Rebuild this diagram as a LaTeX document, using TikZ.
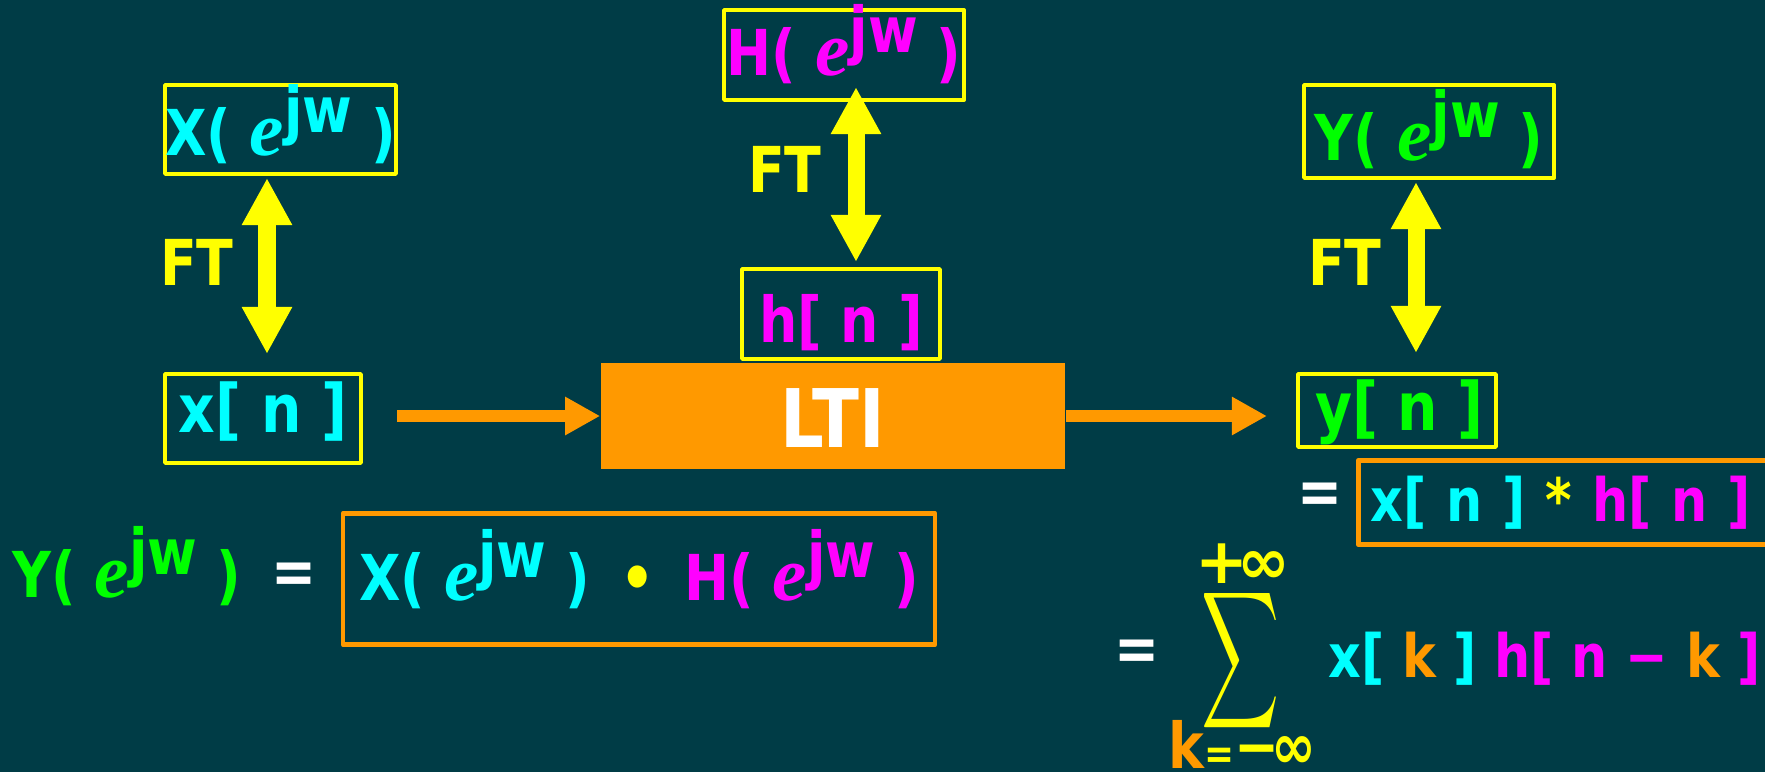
\documentclass[tikz,border=0pt]{standalone}
\usepackage{fontspec}
\setmainfont[FakeStretch=0.85]{DejaVu Sans}
\newfontfamily\efont{Liberation Serif}
\newfontfamily\symfont{DejaVu Sans}
\usetikzlibrary{arrows.meta}

\definecolor{bgteal}{RGB}{0,60,70}
\definecolor{ftyellow}{RGB}{255,255,0}
\definecolor{sigcyan}{RGB}{0,255,255}
\definecolor{sigmagenta}{RGB}{255,0,255}
\definecolor{siggreen}{RGB}{0,255,0}
\definecolor{ltiorange}{RGB}{255,153,0}

\newcommand{\ejw}{{\efont\itshape\fontsize{22pt}{22pt}\selectfont e}\raisebox{6.5pt}{jw}}
\newcommand{\cy}[1]{\textcolor{sigcyan}{#1}}
\newcommand{\mg}[1]{\textcolor{sigmagenta}{#1}}
\newcommand{\og}[1]{\textcolor{ltiorange}{#1}}
\newcommand{\yl}[1]{\textcolor{ftyellow}{#1}}

\begin{document}
\begin{tikzpicture}[x=0.01cm,y=-0.01cm,
    every node/.style={font=\bfseries\fontsize{18pt}{20pt}\selectfont, inner sep=0pt},
    bigtxt/.style={font=\bfseries\fontsize{19pt}{21pt}\selectfont},
    smalltxt/.style={font=\bfseries\fontsize{17pt}{19pt}\selectfont},
    sigbox/.style={draw=ftyellow, line width=0.045cm, line join=round},
    eqbox/.style={draw=ltiorange, line width=0.048cm, line join=round},
    ftarrow/.style={draw=ftyellow, line width=0.17cm,
      {Triangle[length=0.47cm,width=0.47cm]}-{Triangle[length=0.47cm,width=0.47cm]}},
    oarrow/.style={draw=ltiorange, line width=0.12cm,
      -{Triangle[length=0.35cm,width=0.36cm]}}]

  \useasboundingbox (0,0) rectangle (1765,772);
  \fill[bgteal] (0,0) rectangle (1765,772);
  \clip (0,0) rectangle (1765,772);

  \begin{scope}[every node/.append style={sigbox}]
    \node[minimum width=2.305cm, text height=0.6975cm, text depth=0.1875cm, text=sigcyan]
      (Xw) at (280.5,129.5) {X( \ejw\ )};
    \node[bigtxt, minimum width=1.955cm, text height=0.5775cm, text depth=0.3075cm, text=sigcyan]
      (xn) at (263,418.5) {x[ n ]};
    \node[minimum width=2.395cm, text height=0.6475cm, text depth=0.2475cm, text=sigmagenta]
      (Hw) at (844,55) {H( \ejw\ )};
    \node[minimum width=1.975cm, text height=0.7275cm, text depth=0.1675cm, text=sigmagenta]
      (hn) at (841,314) {h[ n ]};
    \node[minimum width=2.495cm, text height=0.7475cm, text depth=0.1775cm, text=siggreen]
      (Yw) at (1429,131.5) {Y( \ejw\ )};
    \node[bigtxt, minimum width=1.975cm, text height=0.5575cm, text depth=0.1675cm, text=siggreen]
      (yn) at (1397,410.5) {\hspace{0.05cm}y[ n ]};
  \end{scope}

  \node[fill=ltiorange, minimum width=4.64cm, text height=0.84cm, text depth=0.22cm, text=white,
    font=\bfseries\fontsize{23pt}{25pt}\selectfont]
    (LTI) at (833,416) {LTI};

  \draw[ftarrow, shorten <=0.18cm, shorten >=0.02cm]
    ([xshift=0.04cm]xn.north) -- ([xshift=0.04cm]xn.north |- Xw.south)
    node[pos=0.56, left=0.25cm, text=ftyellow] (ftx) {FT};
  \draw[ftarrow, shorten <=0.05cm, shorten >=-0.15cm]
    ([xshift=0.15cm]hn.north) -- ([xshift=0.15cm]hn.north |- Hw.south)
    node[pos=0.59, left=0.26cm, text=ftyellow] (fth) {FT};
  \draw[ftarrow, shorten <=0.19cm, shorten >=0.02cm]
    ([xshift=0.19cm]yn.north) -- ([xshift=0.19cm]yn.north |- Yw.south)
    node[pos=0.57, left=0.26cm, text=ftyellow] (fty) {FT};

  \draw[oarrow, shorten <=0.34cm] (xn.east |- LTI.west) -- (LTI.west);
  \draw[oarrow, shorten >=0.29cm] (LTI.east) -- (LTI.east -| yn.west);

  \node[anchor=base west, text=siggreen] (YwL) at (12,597) {Y( \ejw\ )};
  \node[text=white] (eqA) at (294,578) {=};
  \node[eqbox, minimum width=5.915cm, text height=0.8675cm, text depth=0.4475cm]
    (prod) at (639,579)
    {\cy{X( \ejw\ )}\hspace{0.3cm}\yl{•}\hspace{0.3cm}\mg{H( \ejw\ )}};

  \node[text=white] (eqB) at (1320,498) {=};
  \node[eqbox, smalltxt, anchor=west, text width=4.5cm, align=left, inner xsep=0.12cm,
    text height=0.6075cm, text depth=0.2375cm]
    (conv) at (1356,502.5) {\cy{x[ n ]} \yl{*} \mg{h[ n ]}};

  \node[text=white] (eqC) at (1137,655) {=};
  \node[text=ftyellow] (sig) at (1241,661) {\resizebox{0.78cm}{1.18cm}{$\displaystyle\sum$}};
  \node[text=ftyellow, font=\symfont\bfseries\fontsize{18pt}{20pt}\selectfont]
    (supk) at (1243,564) {+\kern-0.11cm∞};
  \node[anchor=base west] (subk) at (1168,768)
    {\og{k}\yl{{\fontsize{12pt}{12pt}\selectfont =}−\kern-0.08cm∞}};
  \node[smalltxt, anchor=base west] (terms) at (1328,677)
    {\cy{x[}\ \og{k}\ \cy{]} \mg{h[ n −}\ \og{k}\ \mg{]}};

\end{tikzpicture}
\end{document}
